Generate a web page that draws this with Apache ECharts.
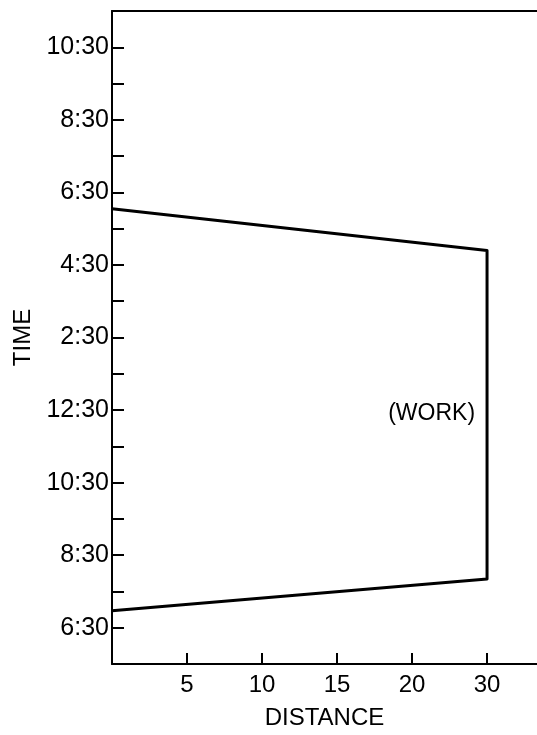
<!DOCTYPE html>
<html>
<head>
<meta charset="utf-8">
<script src="https://cdn.jsdelivr.net/npm/echarts@6/dist/echarts.min.js"></script>
<style>
html,body{margin:0;padding:0;background:#fff;}
#chart{width:537px;height:735px;}
</style>
</head>
<body>
<div id="chart"></div>
<script>
// Path of the trip: distance (miles) and time (hours of day)
var distance = [0, 30, 30, 0];
var timeHours = [6.97, 7.84, 16.90, 18.05];
// Annotation
var workLabel = {distance: 30, hours: 12.41, text: '(WORK)'};
// Tick labels
var xTickLabels = ['5', '10', '15', '20', '30'];
var yTickLabels = ['6:30', '8:30', '10:30', '12:30', '2:30', '4:30', '6:30', '8:30', '10:30'];

var FONT = 'Liberation Sans';
var T0 = 5.5; // axis starts at 5:30

// The distance axis is broken: evenly spaced 5,10,15,20 then 30
var xPositionsOfLabels = [5, 10, 15, 20, 25];
function xPos(d) { return d <= 20 ? d : 20 + (d - 20) / 2; }
function yPos(h) { return h - T0; }

var pathData = distance.map(function (d, i) { return [xPos(d), yPos(timeHours[i])]; });

var chart = echarts.init(document.getElementById('chart'), null, {renderer: 'canvas'});
chart.setOption({
  animation: false,
  backgroundColor: '#fff',
  grid: {left: 112, top: 11, right: 0, bottom: 65, containLabel: false},
  xAxis: [{
    type: 'value', min: 0, max: 28.33, interval: 5,
    position: 'bottom',
    name: 'DISTANCE', nameLocation: 'middle', nameGap: 42,
    nameTextStyle: {fontFamily: FONT, fontSize: 24, color: '#000'},
    axisLine: {show: true, onZero: false, lineStyle: {color: '#000', width: 2}},
    axisTick: {show: true, inside: true, length: 11, lineStyle: {color: '#000', width: 2}},
    axisLabel: {
      color: '#000', fontFamily: FONT, fontSize: 24, margin: 9,
      showMaxLabel: false,
      formatter: function (v) {
        var i = xPositionsOfLabels.indexOf(Math.round(v * 100) / 100);
        return i >= 0 ? xTickLabels[i] : '';
      }
    },
    splitLine: {show: false}
  }, {
    type: 'value', min: 0, max: 28.33, position: 'top',
    axisLine: {show: true, onZero: false, lineStyle: {color: '#000', width: 2}},
    axisTick: {show: false}, axisLabel: {show: false}, splitLine: {show: false}
  }],
  yAxis: {
    type: 'value', min: 0, max: 18, interval: 1,
    name: 'TIME', nameLocation: 'middle', nameGap: 76, nameRotate: 90,
    nameTextStyle: {fontFamily: FONT, fontSize: 24, color: '#000'},
    axisLine: {show: true, onZero: false, lineStyle: {color: '#000', width: 2}},
    axisTick: {show: true, inside: true, length: 12, lineStyle: {color: '#000', width: 2}},
    axisLabel: {
      color: '#000', fontFamily: FONT, fontSize: 25, margin: 3,
      formatter: function (v) {
        var k = Math.round(v);
        if (k % 2 !== 1) return '';
        return yTickLabels[(k - 1) / 2] || '';
      }
    },
    splitLine: {show: false}
  },
  series: [{
    type: 'line',
    data: pathData,
    symbol: 'none',
    lineStyle: {color: '#000', width: 3, join: 'round'},
    z: 3
  }, {
    type: 'scatter',
    data: [[xPos(workLabel.distance), yPos(workLabel.hours)]],
    symbolSize: 0,
    itemStyle: {opacity: 1, color: '#000'},
    label: {
      show: true, position: 'left', distance: 12,
      formatter: workLabel.text, opacity: 1,
      color: '#000', fontFamily: FONT, fontSize: 23
    },
    silent: true
  }]
});
</script>
</body>
</html>
